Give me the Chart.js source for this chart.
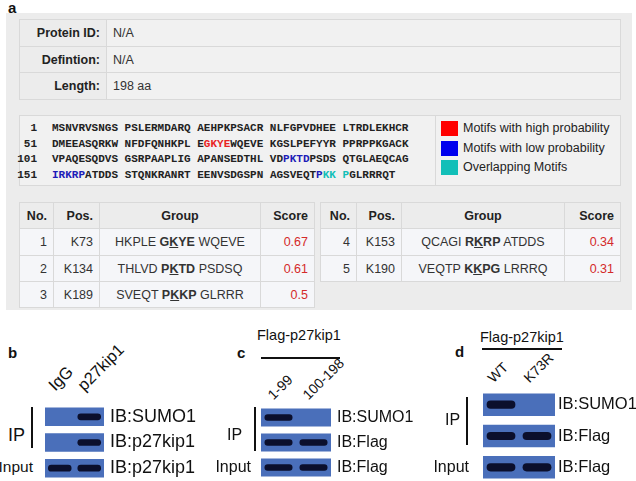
<!DOCTYPE html>
<html>
<head>
<meta charset="utf-8">
<script src="https://cdn.jsdelivr.net/npm/chart.js@4.4.0/dist/chart.umd.min.js"></script>
<style>
  body { margin: 0; width: 636px; height: 481px; background: #fff; position: relative; overflow: hidden;
         font-family: "Liberation Sans", Arial, sans-serif; color: #111; }
  .abs { position: absolute; white-space: nowrap; }
  .cell { position: absolute; box-sizing: border-box; border: 1px solid #d9d9d9; background: #f1f1f1;
          display: flex; align-items: center; padding: 0 6px; font-size: 12.5px; color: #333; white-space: nowrap; }
  .hd { font-weight: bold; background: #ececec; color: #222; }
  .body { background: #f5f6f9; }
  .seq { position: absolute; font-family: "Liberation Mono", monospace; font-weight: bold; font-size: 11px;
         line-height: 16px; color: #222; white-space: pre; }
  .letter { position: absolute; font-weight: bold; font-size: 15px; line-height: 15px; }
  canvas { position: absolute; }
  .rot { position: absolute; transform-origin: 0 100%; transform: rotate(-45deg); white-space: nowrap; }
</style>
</head>
<body>
<div class="abs" id="panelA" style="left:6px;top:13px;width:626px;height:297px;background:#ececec"></div>
<canvas id="blotB" width="159" height="77" style="left:45px;top:404px"></canvas>
<canvas id="blotC" width="160" height="75" style="left:261px;top:405px"></canvas>
<canvas id="blotD" width="153" height="94" style="left:483px;top:389px"></canvas>
<script>
// ---- panel a data ----
const infoLabels = ["Protein ID:", "Defintion:", "Length:"];
const infoValues = ["N/A", "N/A", "198 aa"];

const sequence =
  "MSNVRVSNGSPSLERMDARQAEHPKPSACRNLFGPVDHEELTRDLEKHCR" +
  "DMEEASQRKWNFDFQNHKPLEGKYEWQEVEKGSLPEFYYRPPRPPKGACK" +
  "VPAQESQDVSGSRPAAPLIGAPANSEDTHLVDPKTDPSDSQTGLAEQCAG" +
  "IRKRPATDDSSTQNKRANRTEENVSDGSPNAGSVEQTPKKPGLRRRQT";

// residue ranges (1-based, inclusive) coloured in the sequence view
const highRanges = [[72, 75]];
const lowRanges = [[133, 136], [151, 155], [188, 188]];
const overlapRanges = [[189, 191]];

const legendLabels = ["Motifs with high probability", "Motifs with low probability", "Overlapping Motifs"];
const legendColors = ["#ff0000", "#0000ee", "#12bfb8"];

const tableHeaders = ["No.", "Pos.", "Group", "Score"];
const siteNo = [1, 2, 3, 4, 5];
const sitePos = ["K73", "K134", "K189", "K153", "K190"];
const siteLeft = ["HKPLE", "THLVD", "SVEQT", "QCAGI", "VEQTP"];
const siteMotif = ["GKYE", "PKTD", "PKKP", "RKRP", "KKPG"];
const siteRight = ["WQEVE", "PSDSQ", "GLRRR", "ATDDS", "LRRRQ"];
const siteScore = [0.67, 0.61, 0.5, 0.34, 0.31];

// ---- blot data (1 = band present in that lane) ----
const lanesB = ["IgG", "p27kip1"];
const rowsB = ["IB:SUMO1", "IB:p27kip1", "IB:p27kip1"];
const bandsB = [[0, 1], [0, 1], [1, 1]];

const lanesC = ["1-99", "100-198"];
const rowsC = ["IB:SUMO1", "IB:Flag", "IB:Flag"];
const bandsC = [[1, 0], [1, 1], [1, 1]];

const lanesD = ["WT", "K73R"];
const rowsD = ["IB:SUMO1", "IB:Flag", "IB:Flag"];
const bandsD = [[1, 0], [1, 1], [1, 1]];

// ---------------------------------------------------------------
function el(tag, cls, css, html) {
  const d = document.createElement(tag);
  if (cls) d.className = cls;
  Object.assign(d.style, css || {});
  if (html !== undefined) d.innerHTML = html;
  document.body.appendChild(d);
  return d;
}
function cell(x0, y0, x1, y1, cls, html, align) {
  return el("div", "cell " + (cls || ""), {
    left: x0 + "px", top: y0 + "px", width: (x1 - x0 + 1) + "px", height: (y1 - y0 + 1) + "px",
    justifyContent: align || "flex-start"
  }, "<span>" + html + "</span>");
}

el("div", "letter", { left: "8px", top: "0px" }, "a");

// info table
const infoRows = [19, 46, 72, 99];
infoLabels.forEach((lab, i) => {
  cell(19, infoRows[i], 106, infoRows[i + 1], "hd", lab, "flex-end");
  cell(106, infoRows[i], 620, infoRows[i + 1], "", infoValues[i]);
});

// sequence box + legend
cell(19, 115, 435, 185, "", "");
cell(435, 115, 620, 185, "", "");

function residueColor(n) {
  const inR = rs => rs.some(r => n >= r[0] && n <= r[1]);
  if (inR(overlapRanges)) return legendColors[2];
  if (inR(highRanges)) return "#e8231f";
  if (inR(lowRanges)) return "#1d1db8";
  return null;
}
for (let line = 0; line * 50 < sequence.length; line++) {
  const start = line * 50;
  const top = 120 + line * 15.7;
  el("div", "seq", { left: "0px", width: "37px", top: top + "px", textAlign: "right" }, String(start + 1));
  let html = "";
  for (let i = start; i < Math.min(start + 50, sequence.length); i++) {
    if (i > start && (i - start) % 10 === 0) html += " ";
    const c = residueColor(i + 1);
    html += c ? `<span style="color:${c}">${sequence[i]}</span>` : sequence[i];
  }
  el("div", "seq", { left: "52px", top: top + "px" }, html);
}
legendLabels.forEach((lab, i) => {
  const y = 121 + i * 19.5;
  el("div", "abs", { left: "441px", top: y + "px", width: "17px", height: "15px", background: legendColors[i] });
  el("div", "abs", { left: "463px", top: (y - 1) + "px", fontSize: "12.5px", lineHeight: "17px", color: "#222" }, lab);
});

// site tables
function siteTable(cols, ids) {
  const rows = [202, 228, 255, 281, 307];
  const aligns = ["flex-end", "flex-end", "center", "flex-end"];
  tableHeaders.forEach((h, c) => cell(cols[c], rows[0], cols[c + 1], rows[1], "hd", h, aligns[c]));
  ids.forEach((k, r) => {
    const motif = `<b>${siteMotif[k][0]}<u>${siteMotif[k][1]}</u>${siteMotif[k].slice(2)}</b>`;
    const vals = [String(siteNo[k]), sitePos[k], `${siteLeft[k]} ${motif} ${siteRight[k]}`,
                  `<span style="color:#d42a2a">${siteScore[k]}</span>`];
    vals.forEach((v, c) => cell(cols[c], rows[r + 1], cols[c + 1], rows[r + 2], "body", v, aligns[c]));
  });
}
siteTable([19, 53, 99, 260, 314], [0, 1, 2]);
siteTable([320, 356, 401, 564, 620], [3, 4]);

// ---------------- blots ----------------
function drawBlot(id, rows, lanes, bands, o) {
  const laneSets = lanes.map((name, li) => ({
    label: name,
    data: bands.map(r => r[li] ? [li + 0.1, li + 0.9] : null),
    backgroundColor: "#0b0f2c",
    borderRadius: 8,
    borderSkipped: false,
    barPercentage: o.band,
    categoryPercentage: 1,
    grouped: false,
    order: 0
  }));
  return new Chart(document.getElementById(id), {
    type: "bar",
    data: {
      labels: rows,
      datasets: [{
        label: "membrane",
        data: rows.map(() => [0, lanes.length]),
        backgroundColor: "#4a6fba",
        barPercentage: o.strip,
        categoryPercentage: 1,
        grouped: false,
        order: 1
      }, ...laneSets]
    },
    options: {
      indexAxis: "y",
      responsive: false,
      maintainAspectRatio: false,
      animation: false,
      events: [],
      layout: { padding: 0 },
      plugins: { legend: { display: false }, tooltip: { enabled: false } },
      scales: {
        x: { type: "linear", display: false, min: 0, max: lanes.length },
        y: {
          position: "right",
          grid: { display: false, drawTicks: false },
          border: { display: false },
          ticks: { padding: o.pad, color: "#111", font: { family: "Liberation Sans", size: o.font } },
          afterFit: s => { s.width = o.axisW; s.paddingTop = 0; s.paddingBottom = 0; }
        }
      }
    }
  });
}

function panelText(chart, lanes, o) {
  const cv = chart.canvas;
  const left = parseFloat(cv.style.left);
  lanes.forEach((name, li) => {
    const x = left + chart.scales.x.getPixelForValue(li + 0.5) - o.laneShift;
    el("div", "rot", { left: x + "px", top: (o.laneBottom - o.laneFont) + "px",
      fontSize: o.laneFont + "px", lineHeight: o.laneFont + "px" }, name);
  });
  el("div", "letter", { left: o.letter[0] + "px", top: o.letter[1] + "px" }, o.name);
  el("div", "abs", { left: o.ip[0] + "px", top: (o.ip[1] - o.font / 2) + "px", fontSize: o.font + "px", lineHeight: o.font + "px" }, "IP");
  el("div", "abs", { left: o.line[0] + "px", top: o.line[1] + "px", width: "2px", height: (o.line[2] - o.line[1]) + "px", background: "#111" });
  el("div", "abs", { left: (o.input[0] - 60) + "px", width: "60px", textAlign: "right",
    top: (o.input[1] - o.inputFont / 2) + "px", fontSize: o.inputFont + "px", lineHeight: o.inputFont + "px" }, "Input");
  if (o.header) {
    el("div", "abs", { left: o.header[0] + "px", top: (o.header[1] - 8) + "px", fontSize: "14.5px", lineHeight: "16px" }, "Flag-p27kip1");
    el("div", "abs", { left: o.rule[0] + "px", top: o.rule[2] + "px", width: (o.rule[1] - o.rule[0]) + "px", height: "1.5px", background: "#111" });
  }
}

const chB = drawBlot("blotB", rowsB, lanesB, bandsB, { strip: 0.72, band: 0.26, pad: 6, font: 18, axisW: 100 });
const chC = drawBlot("blotC", rowsC, lanesC, bandsC, { strip: 0.72, band: 0.26, pad: 6, font: 16, axisW: 90 });
const chD = drawBlot("blotD", rowsD, lanesD, bandsD, { strip: 0.72, band: 0.26, pad: 3, font: 16.5, axisW: 81 });

panelText(chB, lanesB, { name: "b", letter: [8, 345], font: 18, inputFont: 15.5, ip: [8, 435], line: [31, 407, 448], input: [33, 467],
  laneBottom: 393, laneFont: 16.5, laneShift: 3 });
panelText(chC, lanesC, { name: "c", letter: [237, 345], font: 16, inputFont: 16, ip: [227, 435], line: [254, 407, 451], input: [251, 467],
  laneBottom: 402, laneFont: 14, laneShift: 4, header: [257, 335], rule: [261, 340, 357] });
panelText(chD, lanesD, { name: "d", letter: [455, 344], font: 16, inputFont: 16, ip: [445, 420], line: [466, 397, 445], input: [469, 467],
  laneBottom: 385, laneFont: 14, laneShift: 6, header: [480, 337], rule: [482, 562, 348] });
</script>
</body>
</html>
